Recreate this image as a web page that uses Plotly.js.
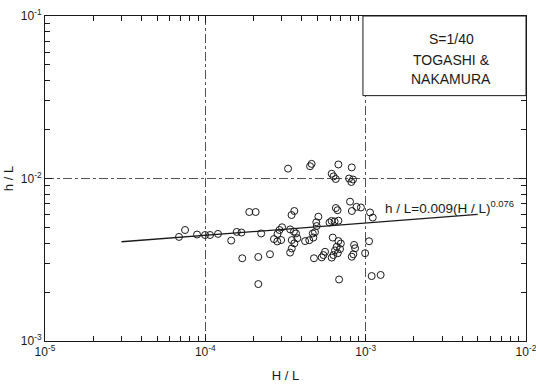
<!DOCTYPE html>
<html>
<head>
<meta charset="utf-8">
<script src="https://cdn.plot.ly/plotly-3.0.1.min.js"></script>
<style>html,body{margin:0;padding:0;background:#fff;}#chart{width:536px;height:384px;}</style>
</head>
<body>
<div id="chart"></div>
<script>
// Observed data: H/L (x) and h/L (y)
const obsHL = [3.28e-4,4.50e-4,4.60e-4,6.76e-4,8.19e-4,6.14e-4,6.30e-4,6.51e-4,7.88e-4,8.14e-4,8.34e-4,
  7.99e-4,6.52e-4,6.68e-4,8.20e-4,8.77e-4,9.34e-4,1.065e-3,1.107e-3,1.88e-4,2.06e-4,3.59e-4,3.45e-4,5.07e-4,4.92e-4,6.13e-4,6.40e-4,6.76e-4,5.95e-4,
  6.85e-5,7.47e-5,8.88e-5,9.96e-5,1.07e-4,1.20e-4,1.45e-4,1.57e-4,1.68e-4,2.23e-4,
  3.01e-4,2.90e-4,2.82e-4,2.68e-4,2.81e-4,2.97e-4,
  3.38e-4,3.57e-4,3.68e-4,3.75e-4,3.46e-4,3.59e-4,3.46e-4,3.38e-4,
  4.19e-4,4.45e-4,4.72e-4,4.83e-4,4.95e-4,4.68e-4,
  4.76e-4,5.32e-4,5.45e-4,5.58e-4,6.14e-4,6.29e-4,
  6.23e-4,6.76e-4,7.00e-4,6.60e-4,6.92e-4,6.44e-4,6.70e-4,
  8.19e-4,8.38e-4,8.59e-4,8.47e-4,1.05e-3,9.92e-4,
  1.70e-4,2.14e-4,2.53e-4,2.14e-4,6.83e-4,1.09e-3,1.24e-3];
const obshL = [1.15e-2,1.19e-2,1.23e-2,1.22e-2,1.17e-2,1.07e-2,1.03e-2,9.93e-3,1.00e-2,9.52e-3,9.86e-3,
  7.20e-3,6.58e-3,6.38e-3,6.31e-3,6.69e-3,6.63e-3,6.18e-3,5.75e-3,6.22e-3,6.22e-3,6.31e-3,5.96e-3,5.82e-3,5.38e-3,5.48e-3,5.44e-3,5.50e-3,5.36e-3,
  4.37e-3,4.82e-3,4.52e-3,4.49e-3,4.49e-3,4.56e-3,4.15e-3,4.69e-3,4.65e-3,4.59e-3,
  5.01e-3,4.82e-3,4.56e-3,4.24e-3,4.10e-3,4.18e-3,
  4.86e-3,4.71e-3,4.59e-3,4.29e-3,4.18e-3,3.99e-3,3.71e-3,3.50e-3,
  4.12e-3,4.17e-3,4.33e-3,4.67e-3,5.10e-3,4.59e-3,
  3.23e-3,3.27e-3,3.38e-3,3.54e-3,3.26e-3,3.38e-3,
  4.33e-3,4.12e-3,3.98e-3,3.80e-3,3.68e-3,3.61e-3,3.47e-3,
  3.30e-3,3.42e-3,3.72e-3,3.90e-3,4.11e-3,3.47e-3,
  3.23e-3,3.29e-3,3.42e-3,2.24e-3,2.39e-3,2.51e-3,2.55e-3];

// Fitted line h/L = 0.009 (H/L)^0.076, end points
const fitHL = [3.0e-5, 5.0e-3];
const fithL = [4.08e-3, 6.01e-3];

// Tick labels
const xTickVals = [1e-5, 1e-4, 1e-3, 1e-2];
const xTickText = ['10<sup>-5</sup>', '10<sup>-4</sup>', '10<sup>-3</sup>', '10<sup>-2</sup>'];
const yTickVals = [1e-3, 1e-2, 1e-1];
const yTickText = ['10<sup>-3</sup>', '10<sup>-2</sup>', '10<sup>-1</sup>'];
const minorDigits = [2, 3, 4, 5, 6, 7, 8, 9];

const labelLines = ['S=1/40', 'TOGASHI &amp;', 'NAKAMURA'];
const fitLabel = 'h / L=0.009(H / L)<sup>0.076</sup>';

const FONT = 'Liberation Sans, Arial, sans-serif';
const INK = '#1a1a1a';

function minorVals(decades) {
  const out = [];
  decades.forEach(function (d) { minorDigits.forEach(function (m) { out.push(m * d); }); });
  return out;
}

const traces = [
  {x: fitHL, y: fithL, type: 'scatter', mode: 'lines',
   line: {color: INK, width: 1.3}, hoverinfo: 'skip', showlegend: false},
  {x: obsHL, y: obshL, type: 'scatter', mode: 'markers',
   marker: {symbol: 'circle-open', size: 7, color: INK, line: {width: 1, color: INK}},
   showlegend: false}
];

function axisBase(minorTicks) {
  return {
    type: 'log', tickmode: 'array',
    ticks: 'inside', ticklen: 7, tickwidth: 1, tickcolor: INK,
    showline: true, linecolor: INK, linewidth: 1, mirror: 'allticks',
    showgrid: true, gridcolor: '#555', griddash: 'dashdot', gridwidth: 1,
    zeroline: false, ticklabeloverflow: 'allow',
    tickfont: {family: FONT, size: 12, color: INK},
    minor: {tickmode: 'array', tickvals: minorTicks, ticks: 'inside', ticklen: 5,
            tickwidth: 1, tickcolor: INK, showgrid: false}
  };
}

const xaxis = Object.assign(axisBase(minorVals(xTickVals.slice(0, 3))), {
  range: [-5, -2], tickvals: xTickVals, ticktext: xTickText,
  title: {text: 'H / L', font: {family: FONT, size: 13, color: INK}, standoff: 12}
});
const yaxis = Object.assign(axisBase(minorVals(yTickVals.slice(0, 2))), {
  range: [-3, -1], tickvals: yTickVals, ticktext: yTickText,
  title: {text: 'h / L', font: {family: FONT, size: 13, color: INK}, standoff: 4}
});

const annotations = [
  {xref: 'paper', yref: 'paper', x: 0.845, y: 0.930, text: labelLines[0], showarrow: false,
   font: {family: FONT, size: 14, color: INK}, xanchor: 'center', yanchor: 'middle'},
  {xref: 'paper', yref: 'paper', x: 0.845, y: 0.866, text: labelLines[1], showarrow: false,
   font: {family: FONT, size: 14, color: INK}, xanchor: 'center', yanchor: 'middle'},
  {xref: 'paper', yref: 'paper', x: 0.845, y: 0.806, text: labelLines[2], showarrow: false,
   font: {family: FONT, size: 14, color: INK}, xanchor: 'center', yanchor: 'middle'},
  {xref: 'paper', yref: 'paper', x: 0.703, y: 0.412, text: fitLabel, showarrow: false,
   font: {family: FONT, size: 13.5, color: INK}, xanchor: 'left', yanchor: 'middle'}
];

const shapes = [
  {type: 'rect', xref: 'paper', yref: 'paper', x0: 0.661, x1: 1.0, y0: 0.755, y1: 1.0,
   line: {color: INK, width: 1}, fillcolor: '#fff', layer: 'above'}
];

const layout = {
  width: 536, height: 384,
  margin: {l: 45, r: 10, t: 16, b: 43},
  paper_bgcolor: '#fff', plot_bgcolor: '#fff',
  xaxis: xaxis, yaxis: yaxis,
  annotations: annotations, shapes: shapes,
  showlegend: false
};

Plotly.newPlot('chart', traces, layout, {displayModeBar: false, staticPlot: true});
</script>
</body>
</html>
